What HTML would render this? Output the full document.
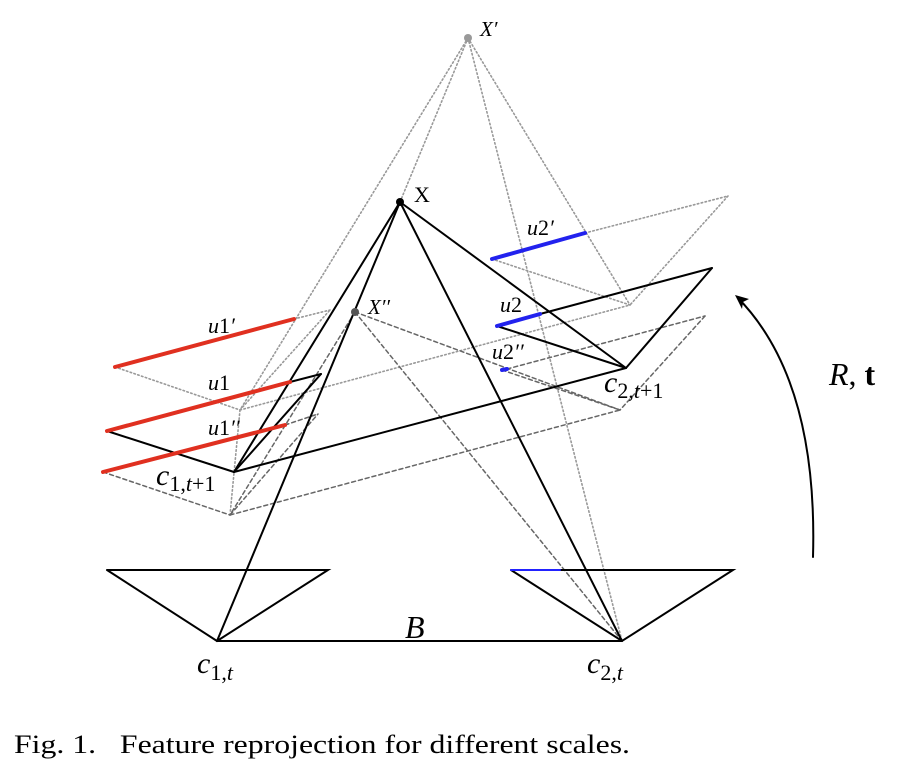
<!DOCTYPE html>
<html><head><meta charset="utf-8"><style>
html,body{margin:0;padding:0;background:#fff;width:903px;height:761px;overflow:hidden}
svg{display:block}
.m{font-family:"Liberation Serif",serif;font-style:italic}
.r{font-family:"Liberation Serif",serif}
</style></head><body>
<svg width="903" height="761" viewBox="0 0 903 761" xmlns="http://www.w3.org/2000/svg">
<g fill="none" stroke-linecap="round">
<g stroke="#999" stroke-width="1.6" stroke-dasharray="1.5 2.5">
<line x1="468" y1="38" x2="240" y2="410"/>
<line x1="468" y1="38" x2="400" y2="202"/>
<line x1="468" y1="38" x2="630" y2="305"/>
<line x1="468" y1="38" x2="622" y2="641"/>
<line x1="294" y1="319" x2="330" y2="310"/>
<line x1="115" y1="367" x2="240" y2="410"/>
<line x1="240" y1="410" x2="330" y2="310"/>
<line x1="240" y1="410" x2="630" y2="305"/>
<line x1="585" y1="233" x2="728" y2="196"/>
<line x1="728" y1="196" x2="630" y2="305"/>
<line x1="492" y1="259" x2="630" y2="305"/>
<line x1="240" y1="410" x2="230" y2="515"/>
</g>
<g stroke="#666" stroke-width="1.5" stroke-dasharray="4 3">
<line x1="355" y1="312" x2="230" y2="515"/>
<line x1="355" y1="312" x2="620" y2="410"/>
<line x1="355" y1="312" x2="622" y2="641"/>
<line x1="285" y1="425" x2="318" y2="414"/>
<line x1="103" y1="472" x2="230" y2="515"/>
<line x1="230" y1="515" x2="318" y2="414"/>
<line x1="230" y1="515" x2="620" y2="410"/>
<line x1="507" y1="369" x2="705" y2="316"/>
<line x1="705" y1="316" x2="620" y2="410"/>
<line x1="502" y1="370" x2="620" y2="410"/>
</g>
<g stroke="#000" stroke-width="2">
<line x1="400" y1="202" x2="217" y2="641"/>
<line x1="400" y1="202" x2="622" y2="641"/>
<line x1="400" y1="202" x2="234" y2="472"/>
<line x1="400" y1="202" x2="626" y2="368"/>
<line x1="107" y1="431" x2="234" y2="472"/>
<line x1="234" y1="472" x2="321" y2="374"/>
<line x1="290" y1="382" x2="321" y2="374"/>
<line x1="234" y1="472" x2="626" y2="368"/>
<line x1="497" y1="326" x2="626" y2="368"/>
<line x1="626" y1="368" x2="712" y2="268"/>
<line x1="540" y1="314" x2="712" y2="268"/>
<line x1="217" y1="641" x2="622" y2="641"/>
<polyline points="107,570 328,570 217,641 107,570"/>
<polyline points="560,570 733,570 622,641 511,570"/>
</g>
<line x1="511" y1="570" x2="560" y2="570" stroke="#22f" stroke-width="2"/>
<g stroke="#e03020" stroke-width="4">
<line x1="115" y1="367" x2="294" y2="319"/>
<line x1="107" y1="431" x2="290" y2="382"/>
<line x1="103" y1="472" x2="285" y2="425"/>
</g>
<g stroke="#2222ee" stroke-width="4">
<line x1="492" y1="259" x2="585" y2="233"/>
<line x1="497" y1="326" x2="540" y2="314"/>
<line x1="502" y1="370" x2="507" y2="369"/>
</g>
<path d="M813,557 Q818,380 738,298" stroke="#000" stroke-width="2"/>
</g>
<path d="M735,295 L749,299 L743,302 L742,309 Z" fill="#000"/>
<circle cx="468" cy="38" r="4" fill="#999"/>
<circle cx="400" cy="202" r="4" fill="#000"/>
<circle cx="355" cy="312" r="4" fill="#555"/>
<g font-size="22">
<text class="m" x="480" y="36" font-size="21">X′</text>
<text class="r" x="414" y="202" font-size="22">X</text>
<text class="m" x="368" y="314" font-size="21">X′′</text>
<text class="m" x="208" y="333">u<tspan font-style="normal">1</tspan>′</text>
<text class="m" x="208" y="390">u<tspan font-style="normal">1</tspan></text>
<text class="m" x="208" y="435">u<tspan font-style="normal">1</tspan>′′</text>
<text class="m" x="156" y="485" font-size="30">c<tspan dy="6" font-style="normal" font-size="22">1,</tspan><tspan font-size="22">t</tspan><tspan font-style="normal" font-size="22">+1</tspan></text>
<text class="m" x="527" y="235">u<tspan font-style="normal">2</tspan>′</text>
<text class="m" x="500" y="312">u<tspan font-style="normal">2</tspan></text>
<text class="m" x="492" y="359">u<tspan font-style="normal">2</tspan>′′</text>
<text class="m" x="604" y="392" font-size="30">c<tspan dy="6" font-style="normal" font-size="22">2,</tspan><tspan font-size="22">t</tspan><tspan font-style="normal" font-size="22">+1</tspan></text>
<text class="m" x="405" y="638" font-size="32">B</text>
<text class="m" x="197" y="673" font-size="30">c<tspan dy="7" font-style="normal" font-size="22">1,</tspan><tspan font-size="22">t</tspan></text>
<text class="m" x="587" y="673" font-size="30">c<tspan dy="7" font-style="normal" font-size="22">2,</tspan><tspan font-size="22">t</tspan></text>
<text class="m" x="829" y="385" font-size="32">R<tspan font-style="normal">, </tspan><tspan font-style="normal" font-weight="bold">t</tspan></text>
</g>
<text class="r" x="14" y="753" font-size="26" textLength="616" lengthAdjust="spacingAndGlyphs" xml:space="preserve">Fig. 1.   Feature reprojection for different scales.</text>
</svg>
</body></html>
